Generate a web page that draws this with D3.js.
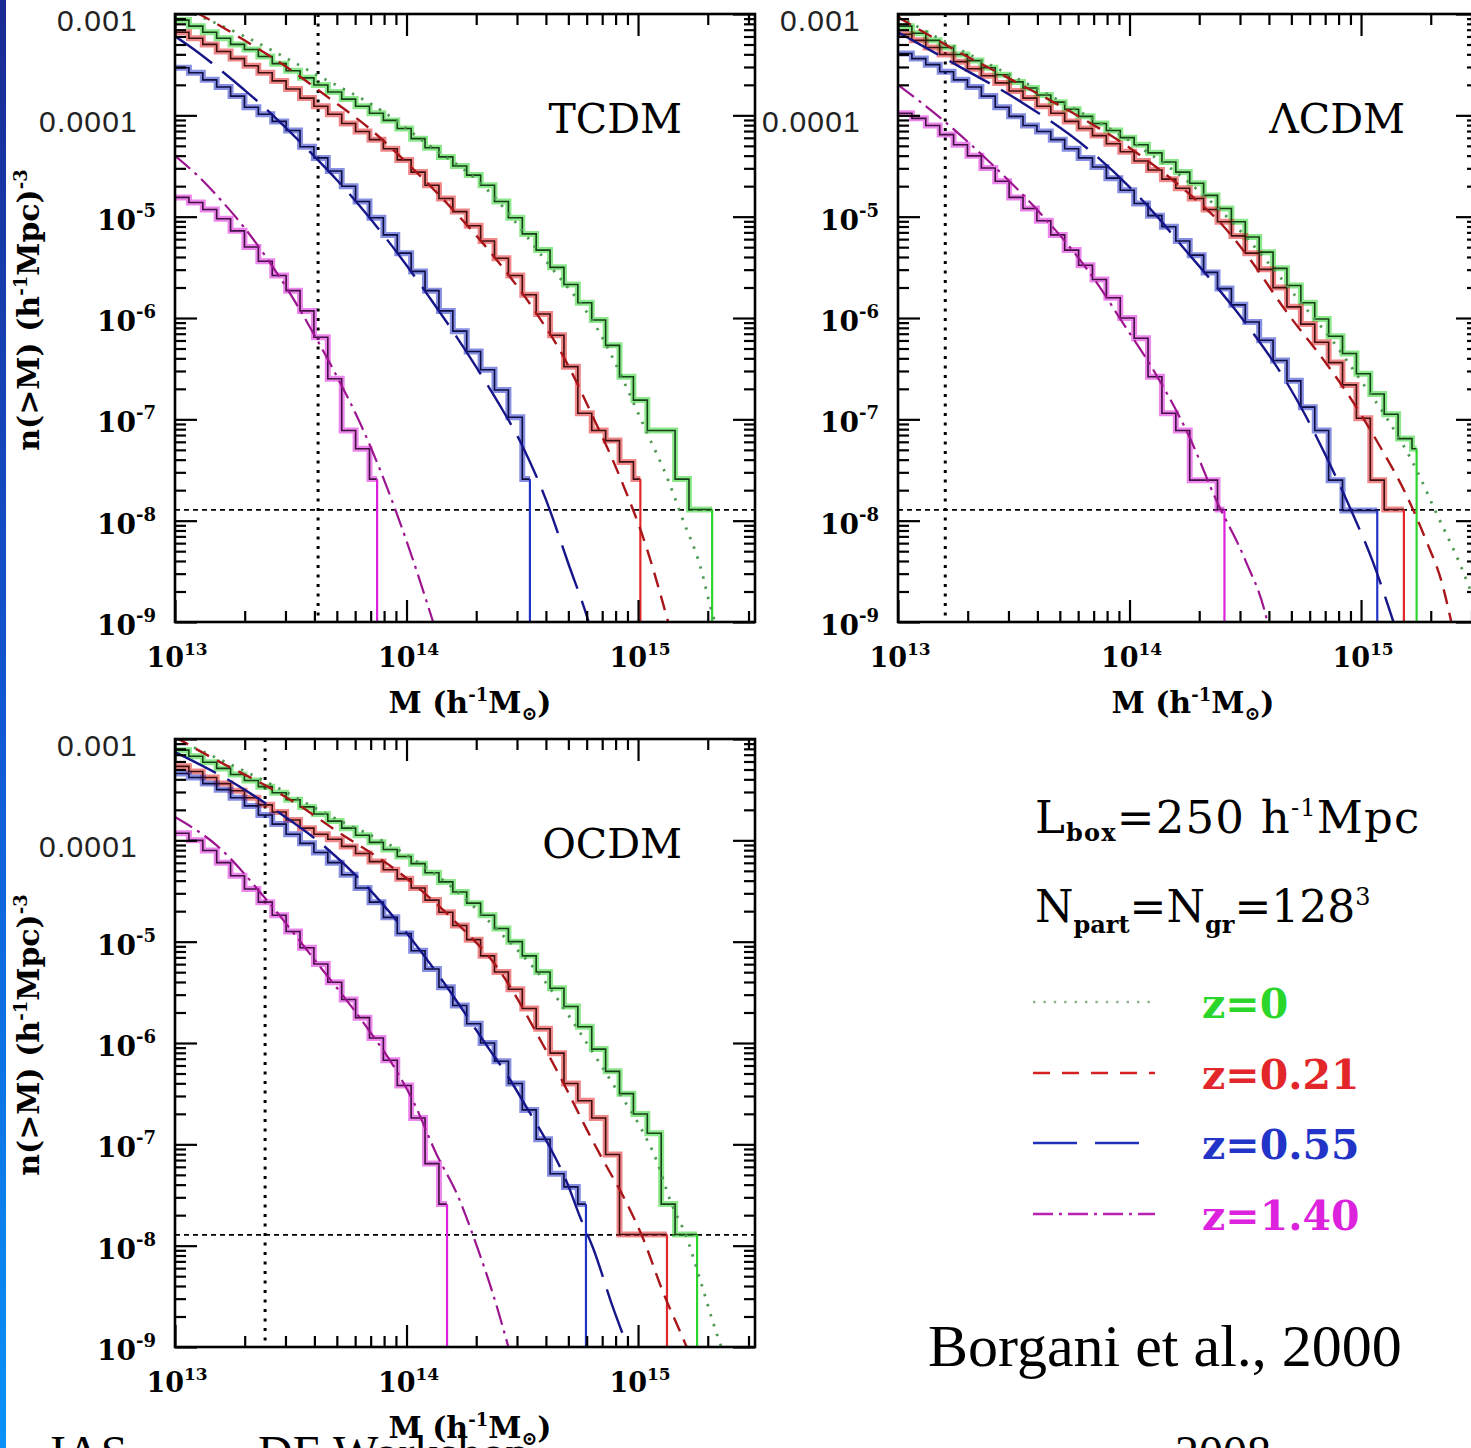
<!DOCTYPE html>
<html>
<head>
<meta charset="utf-8">
<script src="https://cdn.jsdelivr.net/npm/d3@7"></script>
<style>
body { margin: 0; background: #fff; }
svg { display: block; }
</style>
</head>
<body>
<svg></svg>
<script>
// cumulative mass function n(>M), values as [log10 M, log10 n]
// bin edges shared by all simulation histograms (log10 M)
const binEdges = [13.00, 13.06, 13.12, 13.18, 13.24, 13.30, 13.36, 13.42, 13.48, 13.54, 13.60, 13.66, 13.72, 13.78,
  13.84, 13.90, 13.96, 14.02, 14.08, 14.14, 14.20, 14.26, 14.32, 14.38, 14.44, 14.50, 14.56, 14.62, 14.68, 14.74,
  14.80, 14.86, 14.92, 14.98, 15.04, 15.10, 15.16, 15.22, 15.28, 15.34, 15.40, 15.46];

const redshifts = ["z=0", "z=0.21", "z=0.55", "z=1.40"];

// ---- TCDM ----
const tcdmFitZ0 = [[13.00,-2.92],[13.30,-3.22],[13.62,-3.61],[13.89,-3.95],[14.10,-4.30],[14.32,-4.67],[14.61,-5.46],[14.82,-6.09],[15.04,-7.14],[15.13,-7.60],[15.19,-7.97],[15.27,-8.46],[15.32,-8.91],[15.34,-9.05]];
const tcdmFitZ021 = [[13.00,-2.88],[13.12,-3.02],[13.30,-3.26],[13.48,-3.52],[13.66,-3.82],[13.84,-4.13],[14.02,-4.51],[14.20,-4.93],[14.38,-5.40],[14.56,-5.95],[14.68,-6.39],[14.80,-6.95],[14.92,-7.56],[15.04,-8.29],[15.13,-9.0]];
const tcdmFitZ055 = [[13.00,-3.22],[13.10,-3.38],[13.20,-3.56],[13.30,-3.75],[13.40,-3.95],[13.50,-4.17],[13.60,-4.40],[13.70,-4.64],[13.80,-4.90],[13.90,-5.18],[14.00,-5.48],[14.10,-5.80],[14.20,-6.13],[14.30,-6.48],[14.40,-6.85],[14.50,-7.26],[14.60,-7.78],[14.70,-8.43],[14.78,-8.95],[14.80,-9.1]];
const tcdmFitZ140 = [[13.00,-4.40],[13.10,-4.60],[13.20,-4.84],[13.30,-5.11],[13.40,-5.42],[13.50,-5.77],[13.60,-6.16],[13.70,-6.58],[13.80,-7.04],[13.90,-7.58],[14.00,-8.20],[14.115,-9.0]];

const tcdmStepZ0 = [-3.06,-3.12,-3.18,-3.24,-3.30,-3.35,-3.42,-3.49,-3.56,-3.63,-3.70,-3.77,-3.84,-3.91,-3.98,-4.05,-4.13,-4.23,-4.32,-4.41,-4.50,-4.59,-4.69,-4.85,-5.01,-5.17,-5.33,-5.50,-5.67,-5.85,-6.02,-6.27,-6.58,-6.81,-7.11,-7.11,-7.59,-7.89,-7.89];
const tcdmStepZ021 = [-3.18,-3.24,-3.30,-3.37,-3.44,-3.51,-3.58,-3.66,-3.74,-3.83,-3.91,-3.99,-4.08,-4.16,-4.24,-4.33,-4.44,-4.56,-4.69,-4.82,-4.95,-5.09,-5.24,-5.41,-5.58,-5.77,-5.96,-6.17,-6.48,-6.94,-7.11,-7.21,-7.42,-7.59];
const tcdmStepZ055 = [-3.53,-3.58,-3.65,-3.72,-3.81,-3.92,-3.99,-4.06,-4.15,-4.31,-4.42,-4.55,-4.70,-4.85,-5.01,-5.18,-5.36,-5.54,-5.73,-5.93,-6.13,-6.33,-6.51,-6.71,-6.98,-7.59];
const tcdmStepZ140 = [-4.81,-4.86,-4.93,-5.02,-5.14,-5.30,-5.44,-5.58,-5.73,-5.93,-6.19,-6.60,-7.11,-7.29,-7.59];
const tcdmStepEnd = [15.32, 15.01, 14.533, 13.873];
const tcdmMassCut = 4.15e13;

// ---- LambdaCDM ----
const lcdmFitZ0 = [[13.00,-3.02],[13.25,-3.33],[13.50,-3.62],[13.75,-3.92],[14.00,-4.25],[14.26,-4.67],[14.42,-5.00],[14.59,-5.43],[14.73,-5.82],[14.875,-6.22],[15.00,-6.62],[15.12,-7.02],[15.24,-7.50],[15.32,-7.90],[15.42,-8.39],[15.50,-8.85]];
const lcdmFitZ021 = [[13.00,-3.03],[13.25,-3.36],[13.50,-3.66],[13.75,-3.97],[14.00,-4.32],[14.25,-4.76],[14.40,-5.08],[14.52,-5.42],[14.675,-5.93],[14.85,-6.45],[14.96,-6.81],[15.09,-7.30],[15.19,-7.72],[15.28,-8.19],[15.35,-8.62],[15.39,-9.0]];
const lcdmFitZ055 = [[13.00,-3.18],[13.25,-3.50],[13.54,-3.88],[13.83,-4.35],[14.12,-5.00],[14.23,-5.30],[14.35,-5.62],[14.45,-5.90],[14.55,-6.20],[14.65,-6.53],[14.75,-6.92],[14.85,-7.37],[14.95,-7.86],[15.05,-8.40],[15.14,-9.0]];
const lcdmFitZ140 = [[13.00,-3.70],[13.18,-4.02],[13.40,-4.47],[13.60,-4.93],[13.77,-5.38],[13.87,-5.69],[13.96,-6.01],[14.11,-6.54],[14.26,-7.18],[14.375,-7.80],[14.50,-8.39],[14.59,-8.95],[14.60,-9.05]];

const lcdmStepZ0 = [-3.12,-3.19,-3.26,-3.33,-3.40,-3.46,-3.53,-3.60,-3.67,-3.73,-3.80,-3.87,-3.94,-4.01,-4.08,-4.15,-4.22,-4.29,-4.37,-4.46,-4.56,-4.67,-4.79,-4.92,-5.05,-5.20,-5.35,-5.51,-5.68,-5.85,-6.01,-6.18,-6.35,-6.55,-6.75,-6.95,-7.19,-7.29];
const lcdmStepZ021 = [-3.20,-3.26,-3.33,-3.40,-3.47,-3.54,-3.61,-3.68,-3.76,-3.83,-3.91,-3.98,-4.06,-4.13,-4.20,-4.28,-4.36,-4.45,-4.54,-4.63,-4.72,-4.82,-4.93,-5.05,-5.19,-5.36,-5.52,-5.70,-5.89,-6.06,-6.24,-6.44,-6.66,-6.99,-7.60,-7.89,-7.89];
const lcdmStepZ055 = [-3.39,-3.44,-3.50,-3.57,-3.65,-3.72,-3.81,-3.92,-4.01,-4.10,-4.16,-4.24,-4.33,-4.42,-4.51,-4.62,-4.74,-4.87,-4.99,-5.10,-5.24,-5.38,-5.55,-5.71,-5.87,-6.04,-6.22,-6.42,-6.62,-6.88,-7.11,-7.60,-7.90,-7.90,-7.90];
const lcdmStepZ140 = [-3.98,-4.03,-4.10,-4.19,-4.29,-4.40,-4.52,-4.65,-4.81,-4.92,-5.04,-5.18,-5.33,-5.48,-5.62,-5.80,-6.00,-6.20,-6.58,-6.94,-7.11,-7.60,-7.60,-7.89];
const lcdmStepEnd = [15.24, 15.185, 15.07, 14.41];
const lcdmMassCut = 1.6e13;

// ---- OCDM ----
const ocdmFitZ0 = [[13.00,-3.00],[13.40,-3.43],[13.68,-3.77],[13.97,-4.10],[14.20,-4.47],[14.40,-4.90],[14.60,-5.40],[14.75,-5.90],[14.89,-6.40],[15.01,-6.83],[15.08,-7.16],[15.14,-7.56],[15.21,-7.92],[15.27,-8.35],[15.34,-8.87],[15.36,-9.0]];
const ocdmFitZ021 = [[13.00,-2.98],[13.18,-3.21],[13.40,-3.47],[13.54,-3.66],[13.68,-3.88],[13.97,-4.32],[14.20,-4.78],[14.40,-5.28],[14.59,-6.02],[14.69,-6.45],[14.78,-6.86],[14.85,-7.16],[14.94,-7.53],[15.02,-7.92],[15.11,-8.47],[15.18,-8.84],[15.21,-9.0]];
const ocdmFitZ055 = [[13.00,-3.13],[13.25,-3.43],[13.42,-3.68],[13.63,-4.03],[13.83,-4.46],[13.96,-4.80],[14.16,-5.40],[14.36,-6.07],[14.43,-6.30],[14.52,-6.64],[14.61,-6.99],[14.69,-7.36],[14.75,-7.72],[14.81,-8.05],[14.89,-8.60],[14.95,-8.97]];
const ocdmFitZ140 = [[13.00,-3.77],[13.18,-4.05],[13.40,-4.60],[13.61,-5.20],[13.83,-5.85],[13.95,-6.25],[14.03,-6.58],[14.13,-7.10],[14.22,-7.50],[14.30,-7.98],[14.39,-8.60],[14.44,-9.0]];

const ocdmStepZ0 = [-3.11,-3.17,-3.23,-3.29,-3.35,-3.41,-3.47,-3.53,-3.60,-3.67,-3.74,-3.81,-3.88,-3.95,-4.02,-4.09,-4.16,-4.23,-4.32,-4.41,-4.51,-4.62,-4.74,-4.87,-5.00,-5.14,-5.30,-5.46,-5.64,-5.84,-6.06,-6.28,-6.50,-6.70,-6.89,-7.59,-7.89,-7.89];
const ocdmStepZ021 = [-3.27,-3.32,-3.38,-3.44,-3.51,-3.58,-3.65,-3.72,-3.80,-3.88,-3.94,-3.99,-4.06,-4.13,-4.21,-4.29,-4.38,-4.47,-4.59,-4.71,-4.84,-4.98,-5.14,-5.30,-5.47,-5.66,-5.86,-6.10,-6.40,-6.57,-6.74,-7.10,-7.89,-7.89,-7.89,-7.89];
const ocdmStepZ055 = [-3.34,-3.38,-3.44,-3.50,-3.58,-3.66,-3.75,-3.84,-3.94,-4.03,-4.12,-4.22,-4.34,-4.47,-4.61,-4.76,-4.92,-5.09,-5.27,-5.45,-5.63,-5.81,-6.00,-6.18,-6.40,-6.66,-6.95,-7.29,-7.42,-7.59];
const ocdmStepZ140 = [-3.93,-4.00,-4.10,-4.22,-4.35,-4.48,-4.61,-4.74,-4.90,-5.06,-5.22,-5.40,-5.57,-5.75,-5.95,-6.17,-6.42,-6.74,-7.19,-7.59];
const ocdmStepEnd = [15.255, 15.125, 14.775, 14.175];
const ocdmMassCut = 2.45e13;

// one halo per 5 simulation boxes of 250 Mpc/h
const oneHaloLevel = 1.28e-8;

const xTickExps = [13, 14, 15];
const yTickExps = [-3, -4, -5, -6, -7, -8, -9];
const yPlainLabels = { "-3": "0.001", "-4": "0.0001" };

// styles
const lineColors = ["#2bd62b", "#e3262a", "#2233c8", "#dd22dd"];
const fitColors = ["#4f9a52", "#a8161a", "#16168a", "#9c1490"];
const coreColors = ["#173f17", "#401010", "#0e0e40", "#421042"];
const fitDashes = ["2.4,8", "15,9", "46,13", "20,6,3,6"];
const fitWidths = [2.8, 2.4, 2.4, 2.2];
const legendColors = ["#8fb08f", "#d42020", "#2030b8", "#b820b0"];

const W = 1471, H = 1448;
const pw = 580, ph = 608;
const serif = "'DejaVu Serif', serif";

const svg = d3.select("svg").attr("width", W).attr("height", H);
svg.append("rect").attr("width", W).attr("height", H).attr("fill", "#fff");

// slide edge strip
const defs = svg.append("defs");
const grad = defs.append("linearGradient").attr("id", "edge").attr("x1", 0).attr("y1", 0).attr("x2", 0).attr("y2", 1);
grad.append("stop").attr("offset", "0%").attr("stop-color", "#1a2a92");
grad.append("stop").attr("offset", "50%").attr("stop-color", "#1058d4");
grad.append("stop").attr("offset", "100%").attr("stop-color", "#0a92f6");
svg.append("rect").attr("x", 0).attr("y", 0).attr("width", 6).attr("height", H).attr("fill", "url(#edge)");

const x = d3.scaleLog().domain([1e13, 3.2e15]).range([0, pw]);
const y = d3.scaleLog().domain([1e-9, 1e-3]).range([ph, 0]);

const fitLine = d3.line()
  .x(d => x(Math.pow(10, d[0])))
  .y(d => y(Math.pow(10, d[1])))
  .curve(d3.curveMonotoneX);
const stepLine = d3.line()
  .x(d => x(Math.pow(10, d[0])))
  .y(d => y(Math.pow(10, d[1])))
  .curve(d3.curveStepAfter);

const xMinor = [], yMinor = [];
xTickExps.forEach(e => { for (let k = 2; k <= 9; k++) if (k * Math.pow(10, e) < 3.2e15) xMinor.push(k * Math.pow(10, e)); });
yTickExps.slice(1).forEach(e => { for (let k = 2; k <= 9; k++) yMinor.push(k * Math.pow(10, e)); });

const panels = [
  { id: "tcdm", left: 175, top: 14, title: "TCDM", fits: [tcdmFitZ0, tcdmFitZ021, tcdmFitZ055, tcdmFitZ140],
    steps: [tcdmStepZ0, tcdmStepZ021, tcdmStepZ055, tcdmStepZ140], ends: tcdmStepEnd, cut: tcdmMassCut, yTitle: true },
  { id: "lcdm", left: 898, top: 14, title: "\u039BCDM", fits: [lcdmFitZ0, lcdmFitZ021, lcdmFitZ055, lcdmFitZ140],
    steps: [lcdmStepZ0, lcdmStepZ021, lcdmStepZ055, lcdmStepZ140], ends: lcdmStepEnd, cut: lcdmMassCut, yTitle: false },
  { id: "ocdm", left: 175, top: 739, title: "OCDM", fits: [ocdmFitZ0, ocdmFitZ021, ocdmFitZ055, ocdmFitZ140],
    steps: [ocdmStepZ0, ocdmStepZ021, ocdmStepZ055, ocdmStepZ140], ends: ocdmStepEnd, cut: ocdmMassCut, yTitle: true }
];

// footer of the slide (partly below the window edge, as on the slide)
const footer = svg.append("g").attr("font-family", "'Liberation Serif', serif").attr("font-size", 48).attr("fill", "#000");
footer.append("text").attr("x", 50).attr("y", 1469).text("IAS");
footer.append("text").attr("x", 258).attr("y", 1469).text("DE Workshop");
footer.append("text").attr("x", 1175).attr("y", 1469).text("2008");

panels.forEach(p => {
  const g = svg.append("g").attr("transform", `translate(${p.left},${p.top})`);
  defs.append("clipPath").attr("id", "clip-" + p.id)
    .append("rect").attr("width", pw).attr("height", ph);
  const plot = g.append("g").attr("clip-path", `url(#clip-${p.id})`);

  // reference lines
  plot.append("line").attr("x1", 0).attr("x2", pw)
    .attr("y1", y(oneHaloLevel)).attr("y2", y(oneHaloLevel))
    .attr("stroke", "#000").attr("stroke-width", 1.8).attr("stroke-dasharray", "5,4");
  plot.append("line").attr("x1", x(p.cut)).attr("x2", x(p.cut))
    .attr("y1", 0).attr("y2", ph)
    .attr("stroke", "#000").attr("stroke-width", 3).attr("stroke-dasharray", "3,6.5");

  const stepPts = p.steps.map((vals, i) => {
    const pts = vals.map((v, j) => [binEdges[j], v]);
    pts.push([p.ends[i], vals[vals.length - 1]]);
    return pts;
  });

  // histogram halos
  stepPts.forEach((pts, i) => {
    plot.append("path").attr("d", stepLine(pts)).attr("fill", "none")
      .attr("stroke", lineColors[i]).attr("stroke-opacity", 0.55).attr("stroke-width", 6);
  });
  // histogram lines
  stepPts.forEach((pts, i) => {
    plot.append("path").attr("d", stepLine(pts)).attr("fill", "none")
      .attr("stroke", coreColors[i]).attr("stroke-width", 1.6);
    const last = pts[pts.length - 1];
    plot.append("path").attr("d", stepLine([last, [last[0], -9.3]])).attr("fill", "none")
      .attr("stroke", lineColors[i]).attr("stroke-width", 2.2);
  });
  // analytic mass functions
  p.fits.forEach((f, i) => {
    plot.append("path").attr("d", fitLine(f)).attr("fill", "none")
      .attr("stroke", fitColors[i]).attr("stroke-width", fitWidths[i])
      .attr("stroke-dasharray", fitDashes[i]);
  });

  // ticks on all four sides, pointing inward
  const tickStyle = sel => { sel.select(".domain").remove(); sel.selectAll("line").attr("stroke", "#000").attr("stroke-width", 2.2); };
  const xMajor = xTickExps.map(e => Math.pow(10, e));
  const yMajor = yTickExps.map(e => Math.pow(10, e));
  g.append("g").attr("transform", `translate(0,${ph})`).call(d3.axisBottom(x).tickValues(xMajor).tickSize(-22).tickSizeOuter(0).tickFormat("")).call(tickStyle);
  g.append("g").attr("transform", `translate(0,${ph})`).call(d3.axisBottom(x).tickValues(xMinor).tickSize(-11).tickSizeOuter(0).tickFormat("")).call(tickStyle);
  g.append("g").call(d3.axisTop(x).tickValues(xMajor).tickSize(-22).tickSizeOuter(0).tickFormat("")).call(tickStyle);
  g.append("g").call(d3.axisTop(x).tickValues(xMinor).tickSize(-11).tickSizeOuter(0).tickFormat("")).call(tickStyle);
  g.append("g").call(d3.axisLeft(y).tickValues(yMajor).tickSize(-22).tickSizeOuter(0).tickFormat("")).call(tickStyle);
  g.append("g").call(d3.axisLeft(y).tickValues(yMinor).tickSize(-11).tickSizeOuter(0).tickFormat("")).call(tickStyle);
  g.append("g").attr("transform", `translate(${pw},0)`).call(d3.axisRight(y).tickValues(yMajor).tickSize(-22).tickSizeOuter(0).tickFormat("")).call(tickStyle);
  g.append("g").attr("transform", `translate(${pw},0)`).call(d3.axisRight(y).tickValues(yMinor).tickSize(-11).tickSizeOuter(0).tickFormat("")).call(tickStyle);

  g.append("rect").attr("width", pw).attr("height", ph).attr("fill", "none")
    .attr("stroke", "#000").attr("stroke-width", 2.6);

  // x tick labels
  xTickExps.forEach(e => {
    const t = g.append("text").attr("x", x(Math.pow(10, e)) + 2).attr("y", ph + 45)
      .attr("text-anchor", "middle").attr("font-family", serif).attr("font-weight", "bold").attr("font-size", 27);
    t.append("tspan").text("10");
    t.append("tspan").attr("dy", -12).attr("font-size", 17).text(e);
  });
  // y tick labels
  yTickExps.forEach(e => {
    const yy = y(Math.pow(10, e));
    if (yPlainLabels[e]) {
      g.append("text").attr("x", -37).attr("y", yy + 17).attr("text-anchor", "end")
        .attr("font-family", "'Liberation Sans', sans-serif").attr("font-size", 30).attr("letter-spacing", 1.2)
        .attr("fill", "#222").text(yPlainLabels[e]);
    } else {
      const t = g.append("text").attr("x", -19).attr("y", yy + 13).attr("text-anchor", "end")
        .attr("font-family", serif).attr("font-weight", "bold").attr("font-size", 28);
      t.append("tspan").text("10");
      t.append("tspan").attr("dy", -13).attr("font-size", 18).text(e);
    }
  });

  // panel title
  g.append("text").attr("x", 507).attr("y", 119).attr("text-anchor", "end")
    .attr("font-family", serif).attr("font-size", 41).text(p.title);

  // x axis title
  const xt = g.append("text").attr("x", pw / 2 + 5).attr("y", ph + 91).attr("text-anchor", "middle")
    .attr("font-family", serif).attr("font-weight", "bold").attr("font-size", 30);
  xt.append("tspan").text("M  (h");
  xt.append("tspan").attr("dy", -12).attr("font-size", 18).text("-1");
  xt.append("tspan").attr("dy", 12).text("M");
  xt.append("tspan").attr("dy", 7).attr("font-size", 19).text("\u2299");
  xt.append("tspan").attr("dy", -7).text(")");

  // y axis title
  if (p.yTitle) {
    const yt = svg.append("text").attr("transform", `translate(${39},${p.top + 296}) rotate(-90)`)
      .attr("text-anchor", "middle").attr("font-family", serif).attr("font-weight", "bold").attr("font-size", 30);
    yt.append("tspan").text("n(>M)  (h");
    yt.append("tspan").attr("dy", -12).attr("font-size", 18).text("-1");
    yt.append("tspan").attr("dy", 12).text("Mpc)");
    yt.append("tspan").attr("dy", -12).attr("font-size", 18).text("-3");
  }
});

// legend / annotation block
const leg = svg.append("g").attr("font-family", serif);
const l1 = leg.append("text").attr("x", 1035).attr("y", 833).attr("font-size", 45).attr("letter-spacing", 1.2);
l1.append("tspan").text("L");
l1.append("tspan").attr("dy", 8).attr("font-size", 24).attr("font-weight", "bold").text("box");
l1.append("tspan").attr("dy", -8).text("=250  h");
l1.append("tspan").attr("dy", -17).attr("font-size", 24).text("-1");
l1.append("tspan").attr("dy", 17).text("Mpc");

const l2 = leg.append("text").attr("x", 1035).attr("y", 922).attr("font-size", 44);
l2.append("tspan").text("N");
l2.append("tspan").attr("dy", 11).attr("font-size", 24).attr("font-weight", "bold").text("part");
l2.append("tspan").attr("dy", -11).text("=N");
l2.append("tspan").attr("dy", 11).attr("font-size", 24).attr("font-weight", "bold").text("gr");
l2.append("tspan").attr("dy", -11).text("=128");
l2.append("tspan").attr("dy", -17).attr("font-size", 24).text("3");

const legendY = [1002, 1073, 1143, 1214];
const legendDashes = ["2.4,8", "17,12", "44,18", "20,6,3,6"];
redshifts.forEach((z, i) => {
  leg.append("line").attr("x1", 1033).attr("x2", 1155).attr("y1", legendY[i]).attr("y2", legendY[i])
    .attr("stroke", legendColors[i]).attr("stroke-width", 2.6).attr("stroke-dasharray", legendDashes[i]);
  leg.append("text").attr("x", 1202).attr("y", legendY[i] + 16)
    .attr("font-size", 41).attr("font-weight", "bold")
    .attr("fill", lineColors[i]).text(z);
});

svg.append("text").attr("x", 928).attr("y", 1366).attr("font-family", "'Liberation Serif', serif")
  .attr("font-size", 60).text("Borgani et al., 2000");
</script>
</body>
</html>
